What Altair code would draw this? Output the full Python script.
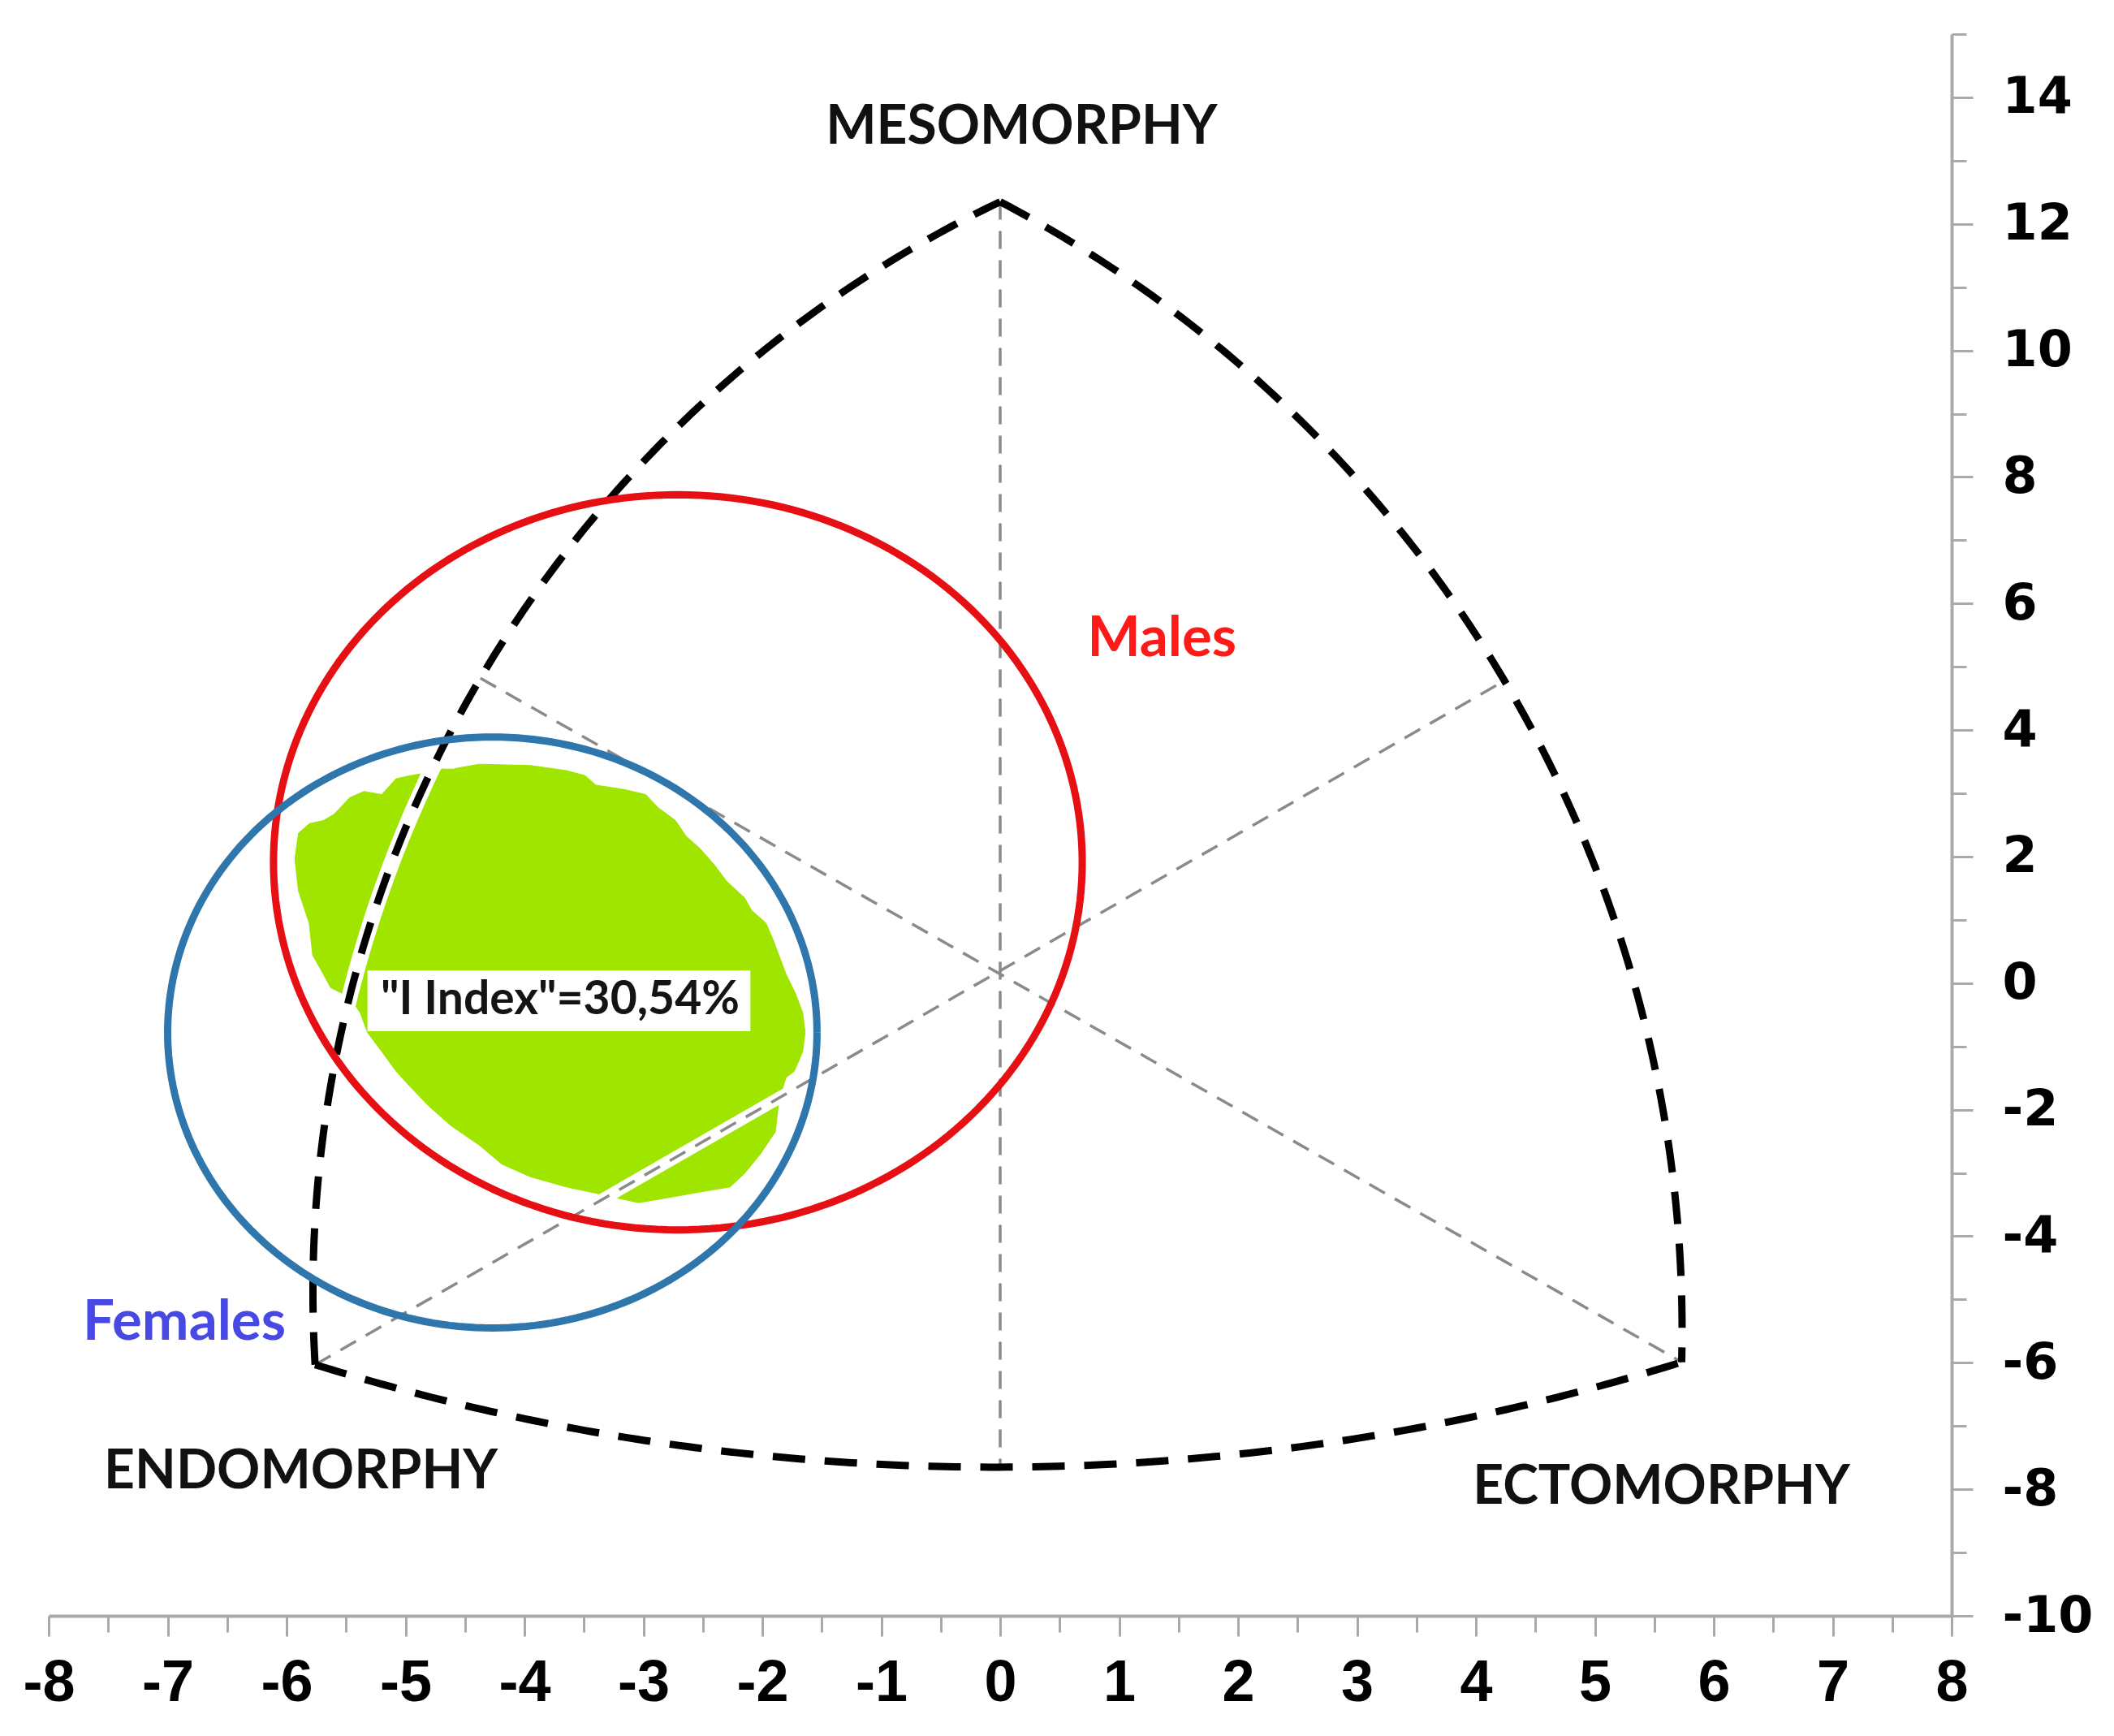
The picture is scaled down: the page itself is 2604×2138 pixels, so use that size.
import math
import altair as alt
import pandas as pd

# ---------------- data ----------------
# Somatochart frame anchor points (x, y)
TOP = (0.0, 12.35)
LEFT = (-5.76, -6.03)
RIGHT = (5.73, -5.99)
BOTTOM_MID = (0.0, -7.65)
LEFT_MID = (-4.37, 4.82)
RIGHT_MID = (4.24, 4.78)

ARC_NAMES = ["endo-meso", "meso-ecto", "endo-ecto"]
ARC_START = [LEFT, TOP, LEFT]
ARC_MID = [LEFT_MID, RIGHT_MID, BOTTOM_MID]
ARC_END = [TOP, RIGHT, RIGHT]

GRAY_START = [TOP, LEFT_MID, LEFT]
GRAY_END = [BOTTOM_MID, RIGHT, RIGHT_MID]

ELLIPSE_NAMES = ["Males", "Females"]
ELLIPSE_CX = [-2.71, -4.27]
ELLIPSE_CY = [1.91, -0.78]
ELLIPSE_RX = [3.40, 2.73]
ELLIPSE_RY = [5.81, 4.67]
ELLIPSE_COLORS = ["#e60f14", "#2f76ac"]

# overlap ("I Index") region outline
BLOB_X = [-4.59, -4.38, -3.95, -3.65, -3.49, -3.40, -3.16, -2.98, -2.88, -2.73,
          -2.64, -2.52, -2.40, -2.30, -2.15, -2.09, -1.97, -1.91, -1.86, -1.80,
          -1.72, -1.66, -1.64, -1.66, -1.73, -1.80, -1.86, -1.89, -2.02, -2.15,
          -2.27, -2.58, -2.88, -3.04, -3.28, -3.40, -3.65, -3.95, -4.19, -4.38,
          -4.62, -4.80, -4.96, -5.08, -5.20, -5.32, -5.38, -5.47, -5.63, -5.69,
          -5.78, -5.81, -5.90, -5.93, -5.90, -5.81, -5.69, -5.60, -5.47, -5.35,
          -5.20, -5.08, -4.96, -4.80, -4.68]
BLOB_Y = [3.39, 3.46, 3.44, 3.36, 3.28, 3.13, 3.06, 2.98, 2.78, 2.57,
          2.32, 2.12, 1.86, 1.61, 1.35, 1.15, 0.95, 0.69, 0.44, 0.14,
          -0.17, -0.47, -0.78, -1.08, -1.39, -1.49, -1.85, -2.35, -2.71, -3.01,
          -3.22, -3.32, -3.42, -3.47, -3.37, -3.32, -3.22, -3.06, -2.86, -2.56,
          -2.25, -1.95, -1.64, -1.39, -1.08, -0.78, -0.47, -0.22, -0.07, 0.14,
          0.44, 0.95, 1.46, 1.96, 2.37, 2.52, 2.57, 2.67, 2.93, 3.03,
          2.98, 3.23, 3.28, 3.33, 3.39]
BLOB_COLOR = "#9fe500"

INDEX_TEXT = ['"I Index"=30,54%']
INDEX_BOX_X = [-5.32, -2.10]
INDEX_BOX_Y = [0.20, -0.76]
INDEX_POS = (-3.70, -0.27)

CORNER_LABELS = ["MESOMORPHY", "ENDOMORPHY", "ECTOMORPHY"]
CORNER_X = [0.18, -5.88, 5.56]
CORNER_Y = [13.52, -7.73, -7.97]

GROUP_LABELS = ["Males", "Females"]
GROUP_X = [1.36, -6.86]
GROUP_Y = [5.44, -5.37]
GROUP_COLORS = ["#ff1a1a", "#4848e2"]

X_TICKS = [v / 2 for v in range(-16, 17)]
Y_TICKS = list(range(-10, 16))

# ---------------- layout ----------------
W, H = 2344, 1948
XDOM, YDOM = [-8, 8], [-10, 15]
K = (H / (YDOM[1] - YDOM[0])) / (W / (XDOM[1] - XDOM[0]))  # y-pixel/x-pixel per unit


def arc_points(p0, p1, p2, n=160):
    x0, y0 = p0[0], p0[1] * K
    x1, y1 = p1[0], p1[1] * K
    x2, y2 = p2[0], p2[1] * K
    d = 2 * (x0 * (y1 - y2) + x1 * (y2 - y0) + x2 * (y0 - y1))
    ux = ((x0**2 + y0**2) * (y1 - y2) + (x1**2 + y1**2) * (y2 - y0) + (x2**2 + y2**2) * (y0 - y1)) / d
    uy = ((x0**2 + y0**2) * (x2 - x1) + (x1**2 + y1**2) * (x0 - x2) + (x2**2 + y2**2) * (x1 - x0)) / d
    r = math.hypot(x0 - ux, y0 - uy)
    a0 = math.atan2(y0 - uy, x0 - ux)
    a1 = math.atan2(y1 - uy, x1 - ux)
    a2 = math.atan2(y2 - uy, x2 - ux)
    tp = 2 * math.pi
    if (a1 - a0) % tp < (a2 - a0) % tp:
        sweep = (a2 - a0) % tp
    else:
        sweep = -((a0 - a2) % tp)
    return [(ux + r * math.cos(a0 + sweep * i / n), (uy + r * math.sin(a0 + sweep * i / n)) / K)
            for i in range(n + 1)]


arc_rows = []
for name, s, m, e in zip(ARC_NAMES, ARC_START, ARC_MID, ARC_END):
    for i, (x, y) in enumerate(arc_points(s, m, e)):
        arc_rows.append({"arc": name, "i": i, "x": x, "y": y})
arc_df = pd.DataFrame(arc_rows)

halo_arc_df = arc_df[(arc_df["arc"] == ARC_NAMES[0]) & (arc_df["y"] > -0.5) & (arc_df["y"] < 3.6)]

gray_df = pd.DataFrame({
    "x": [p[0] for p in GRAY_START], "y": [p[1] for p in GRAY_START],
    "x2": [p[0] for p in GRAY_END], "y2": [p[1] for p in GRAY_END],
})

# white gap along the lower-left to upper-right guide line inside the region
ga, gb = LEFT, RIGHT_MID
t0 = (-3.45 - ga[0]) / (gb[0] - ga[0])
t1 = (-1.60 - ga[0]) / (gb[0] - ga[0])
halo_line_df = pd.DataFrame({
    "x": [ga[0] + t0 * (gb[0] - ga[0])], "y": [ga[1] + t0 * (gb[1] - ga[1])],
    "x2": [ga[0] + t1 * (gb[0] - ga[0])], "y2": [ga[1] + t1 * (gb[1] - ga[1])],
})

ell_rows = []
for name, cx, cy, rx, ry in zip(ELLIPSE_NAMES, ELLIPSE_CX, ELLIPSE_CY, ELLIPSE_RX, ELLIPSE_RY):
    n = 240
    for i in range(n + 1):
        t = 2 * math.pi * i / n
        ell_rows.append({"group": name, "i": i, "x": cx + rx * math.cos(t), "y": cy + ry * math.sin(t)})
ell_df = pd.DataFrame(ell_rows)

blob_df = pd.DataFrame({"i": range(len(BLOB_X)), "x": BLOB_X, "y": BLOB_Y})

box_df = pd.DataFrame({"x": [INDEX_BOX_X[0]], "x2": [INDEX_BOX_X[1]],
                       "y": [INDEX_BOX_Y[0]], "y2": [INDEX_BOX_Y[1]]})
idx_df = pd.DataFrame({"x": [INDEX_POS[0]], "y": [INDEX_POS[1]], "t": INDEX_TEXT})
corner_df = pd.DataFrame({"x": CORNER_X, "y": CORNER_Y, "t": CORNER_LABELS})
group_df = pd.DataFrame({"x": GROUP_X, "y": GROUP_Y, "t": GROUP_LABELS})

# ---------------- scales / axes ----------------
AXIS_GRAY = "#a9a9a9"
xscale = alt.Scale(domain=XDOM, nice=False, zero=False)
yscale = alt.Scale(domain=YDOM, nice=False, zero=False)

xaxis = alt.Axis(
    orient="bottom", values=X_TICKS, title=None, grid=False,
    labelExpr="datum.value % 1 === 0 ? (datum.value < 0 ? '-' : '') + abs(datum.value) : ''",
    tickSize={"condition": {"test": "datum.value % 1 !== 0", "value": 20}, "value": 25},
    tickColor=AXIS_GRAY, tickWidth=3, domainColor=AXIS_GRAY, domainWidth=4,
    labelFont="Liberation Sans Narrow, Arial Narrow, Liberation Sans, Arial", labelFontSize=72,
    labelFontWeight="bold", labelColor="black", labelPadding=22,
    labelFlush=False, labelOverlap=False, labelBound=False,
)
yaxis = alt.Axis(
    orient="right", values=Y_TICKS, title=None, grid=False,
    labelExpr="datum.value % 2 === 0 ? (datum.value < 0 ? '-' : '') + abs(datum.value) : ''",
    tickSize={"condition": {"test": "datum.value % 2 !== 0", "value": 18}, "value": 26},
    tickColor=AXIS_GRAY, tickWidth=3, domainColor=AXIS_GRAY, domainWidth=4,
    labelFont="DejaVu Sans", labelFontSize=62, labelFontWeight="bold", labelColor="black",
    labelPadding=36, labelFlush=False, labelOverlap=False, labelBound=False,
    labelAlign="left", labelBaseline="middle",
)


def X(f="x"):
    return alt.X(f"{f}:Q", scale=xscale, axis=xaxis)


def Y(f="y"):
    return alt.Y(f"{f}:Q", scale=yscale, axis=yaxis)


gray_lines = alt.Chart(gray_df).mark_rule(
    color="#8a8a8a", strokeWidth=3.5, strokeDash=[22, 14]
).encode(x=X(), y=Y(), x2="x2:Q", y2="y2:Q")

blob = alt.Chart(blob_df).mark_line(
    color=BLOB_COLOR, fill=BLOB_COLOR, strokeWidth=1
).encode(x=X(), y=Y(), order="i:Q")

halo_arc = alt.Chart(halo_arc_df).mark_line(color="white", strokeWidth=20).encode(
    x=X(), y=Y(), order="i:Q")

halo_line = alt.Chart(halo_line_df).mark_rule(color="white", strokeWidth=15).encode(
    x=X(), y=Y(), x2="x2:Q", y2="y2:Q")

arcs = alt.Chart(arc_df).mark_line(
    color="black", strokeWidth=9, strokeDash=[40, 24]
).encode(x=X(), y=Y(), detail="arc:N", order="i:Q")

ellipses = alt.Chart(ell_df).mark_line(strokeWidth=9).encode(
    x=X(), y=Y(), detail="group:N", order="i:Q",
    color=alt.Color("group:N", scale=alt.Scale(domain=ELLIPSE_NAMES, range=ELLIPSE_COLORS), legend=None),
)

box = alt.Chart(box_df).mark_rect(color="white").encode(x=X(), y=Y(), x2="x2:Q", y2="y2:Q")

idx_text = alt.Chart(idx_df).mark_text(
    font="Lato", fontWeight="bold", fontSize=57, color="#141414", align="center", baseline="middle"
).encode(x=X(), y=Y(), text="t:N")

corner_text = alt.Chart(corner_df).mark_text(
    font="Lato", fontWeight="bold", fontSize=66, color="#111111", align="center", baseline="middle"
).encode(x=X(), y=Y(), text="t:N")

group_text = alt.Chart(group_df).mark_text(
    font="Lato", fontWeight="bold", fontSize=69, align="center", baseline="middle"
).encode(
    x=X(), y=Y(), text="t:N",
    color=alt.Color("t:N", scale=alt.Scale(domain=GROUP_LABELS, range=GROUP_COLORS), legend=None),
)

chart = alt.layer(
    blob, halo_arc, halo_line, gray_lines, arcs, ellipses, box, idx_text, corner_text, group_text
).resolve_scale(color="independent").properties(
    width=W, height=H,
    padding={"left": 52, "top": 34, "right": 190, "bottom": 130},
    autosize=alt.AutoSizeParams(type="none"),
    background="white",
).configure_view(stroke=None)

chart.save("out.html", embed_options={"renderer": "svg", "actions": False})
